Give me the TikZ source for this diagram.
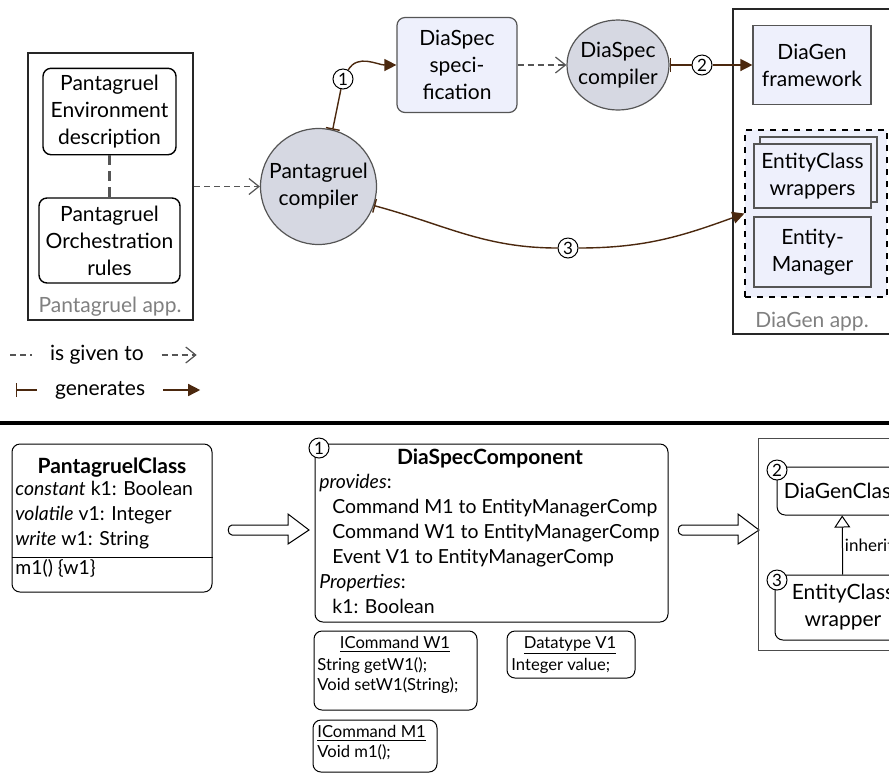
\documentclass[tikz,border=0pt]{standalone}
\usepackage{fontspec}
\setmainfont{Lato}
\usetikzlibrary{arrows.meta,shapes.geometric}
\definecolor{genbrown}{RGB}{75,40,14}
\definecolor{givengray}{RGB}{85,85,85}
\definecolor{compfill}{RGB}{214,216,226}
\definecolor{specfill}{RGB}{238,240,252}
\definecolor{applabel}{RGB}{128,128,128}
\tikzset{bigarr/.pic={\draw[line width=0.5pt,fill=white] (0,-5) -- (56,-5) -- (56,-16) -- (77,0) -- (56,14) -- (56,5) -- (0,5) .. controls (-5,5) and (-5,-5) .. (0,-5) -- cycle;}}
\begin{document}
\begin{tikzpicture}[x=0.5pt,y=-0.5pt,
    every node/.style={font=\fontsize{10.5}{13.5}\selectfont},
    given/.style={givengray,dash pattern=on 3pt off 2pt,line width=0.6pt,-{Straight Barb[length=5pt,width=8pt]}},
    genline/.style={genbrown,line width=0.7pt},
    genfrom/.style={genline,{Bar[width=7pt]}-},
    gento/.style={genline,-{Triangle[length=6pt,width=6pt]}},
    num/.style={circle,draw,fill=white,inner sep=0.5pt,minimum size=10pt,line width=0.5pt,font=\fontsize{8.5}{9}\selectfont},
    tool/.style={ellipse,draw=givengray,fill=compfill,line width=0.6pt,align=center,inner sep=0pt},
    artefact/.style={rectangle,draw=givengray,fill=specfill,line width=0.6pt,align=center},
    userbox/.style={rectangle,rounded corners=4pt,draw,line width=0.7pt,align=center},
    appbox/.style={rectangle,draw=black!85,line width=1.2pt},
    applbl/.style={text=applabel},
    classbox/.style={rectangle,rounded corners=4pt,draw,line width=0.5pt,align=center},
    classtxt/.style={anchor=base west,inner sep=0pt,font=\fontsize{9.7}{12.5}\selectfont},
    smalltxt/.style={anchor=base west,inner sep=0pt,font=\fontsize{8.3}{10}\selectfont},
  ]
    \useasboundingbox (0,0) rectangle (889,773);
    \clip (0,0) rectangle (889,773);

    % Pantagruel app
    \node[appbox,minimum width=82.5pt,minimum height=133.5pt] (pApp) at (110.5,186.5) {};
    \node[userbox,minimum width=66.5pt,minimum height=42.5pt] (envDesc) at (109.5,111.5) {Pantagruel\\Environment\\description};
    \node[userbox,minimum width=70.5pt,minimum height=42.5pt] (orchRules) at (109.5,240.5) {Pantagruel\\Orchestration\\rules};
    \node[applbl] (pAppLbl) at (110,307) {Pantagruel app.};
    \draw[givengray,line width=1.8pt,dash pattern=on 5pt off 3pt] (envDesc) -- (orchRules);

    % compilers and specification
    \node[tool,circle,minimum size=58pt] (pComp) at (318.5,186.5) {Pantagruel\\compiler};
    \node[artefact,rounded corners=4pt,minimum width=60pt,minimum height=47.5pt] (dsSpec) at (457,65) {DiaSpec\\speci-\\fication};
    \node[tool,inner xsep=-2pt,minimum width=51pt,minimum height=45pt] (dsComp) at (618,65) {DiaSpec\\compiler};

    % DiaGen app
    \node[appbox,anchor=north west,minimum width=120pt,minimum height=162.5pt] (dgApp) at (732,8) {};
    \node[applbl] (dgAppLbl) at (812,322) {DiaGen app.};
    \node[artefact,minimum width=59pt,minimum height=39.5pt] (dgFw) at (812,65) {DiaGen\\framework};
    \node[rectangle,draw,dashed,fill=specfill,line width=0.6pt,minimum width=71pt,minimum height=83.5pt] (grp) at (816,213.5) {};
    \node[artefact,minimum width=58.5pt,minimum height=32.5pt] (ecwBack) at (818.5,169.5) {};
    \node[artefact,minimum width=58.5pt,minimum height=32pt] (ecw) at (812.5,176) {EntityClass\\wrappers};
    \node[artefact,minimum width=58.5pt,minimum height=35pt] (entMgr) at (812.5,252) {Entity-\\Manager};

    \node[num] (n1) at (343,79) {1};
    \node[num] (n2) at (702,65) {2};
    \node[num] (n3) at (568,248) {3};

    \draw[given] (pApp) -- (pComp);
    \draw[given] (dsSpec) -- (dsComp);
    \draw[genfrom] (pComp.76) -- (n1);
    \draw[gento] (n1) to[out=60,in=180] (dsSpec.west);
    \draw[genfrom] (dsComp) -- (n2);
    \draw[gento] (n2) -- (dgFw);
    \draw[genfrom] (pComp.-19) to[out=-15,in=180] (n3);
    \draw[gento] (n3) to[out=0,in=200] (grp.west);

    % legend
    \node[anchor=west] (lgGiven) at (43,355) {is given to};
    \draw[given,-] ([xshift=-16.5pt]lgGiven.west) -- ([xshift=-5.5pt]lgGiven.west);
    \draw[given] ([xshift=5.5pt]lgGiven.east) -- ++(17.5pt,0);
    \node[anchor=west] (lgGen) at (48,390) {generates};
    \draw[genfrom] ([xshift=-16pt]lgGen.west) -- ([xshift=-5.5pt]lgGen.west);
    \draw[gento] ([xshift=5.5pt]lgGen.east) -- ++(18.5pt,0);

    \draw[line width=1.6pt] (0,423) -- (889,423);

    % PantagruelClass
    \node[classbox,minimum width=100pt,minimum height=74pt] (pClass) at (112,518) {};
    \node[anchor=base,font=\fontsize{10.5}{12}\selectfont\bfseries] (pClassTitle) at (112,473) {PantagruelClass};
    \foreach \txt [count=\i] in {{\textit{constant} k1: Boolean},{\textit{volatile} v1: Integer},{\textit{write} w1: String}}
        \node[classtxt] at (15,470+25*\i) {\txt};
    \draw[line width=0.5pt] (pClass.west |- 0,557) -- (pClass.east |- 0,557);
    \node[classtxt] (pClassOp) at (15,574) {m1() \{w1\}};

    \pic at (232,530) {bigarr};
    \pic at (682,530) {bigarr};

    % DiaSpecComponent
    \node[classbox,minimum width=176.5pt,minimum height=89pt] (dsComponent) at (491.5,533) {};
    \node[anchor=base,font=\fontsize{10.5}{12}\selectfont\bfseries] (dsCompTitle) at (490,464) {DiaSpecComponent};
    \node[classtxt] at (319,488) {\textit{provides}:};
    \node[classtxt] at (332,513) {Command M1 to EntityManagerComp};
    \node[classtxt] at (332,538) {Command W1 to EntityManagerComp};
    \node[classtxt] at (332,563) {Event V1 to EntityManagerComp};
    \node[classtxt] at (319,588) {\textit{Properties}:};
    \node[classtxt] at (332,613) {k1: Boolean};
    \node[num] (c1) at (319,448) {1};

    \node[classbox,minimum width=81.5pt,minimum height=39.5pt] (icmdW1) at (395.5,670.5) {};
    \node[smalltxt,anchor=base] at (395,648) {\underline{ICommand W1}};
    \node[smalltxt] at (317,670) {String getW1();};
    \node[smalltxt] at (317,690) {Void setW1(String);};
    \node[classbox,minimum width=64pt,minimum height=23.5pt] (dtV1) at (571,654.5) {};
    \node[smalltxt,anchor=base] at (570,648) {\underline{Datatype V1}};
    \node[smalltxt] at (511,670) {Integer value;};
    \node[classbox,minimum width=62pt,minimum height=26pt] (icmdM1) at (375,746) {};
    \node[smalltxt] at (317,737) {\underline{ICommand M1}};
    \node[smalltxt] at (317,757) {Void m1();};

    % DiaGen classes
    \node[rectangle,draw=black!70,line width=0.5pt,anchor=north west,minimum width=80pt,minimum height=106pt] (dgBox) at (758,438) {};
    \node[classbox,minimum width=64pt,minimum height=24pt] (dgClass) at (842,491) {DiaGenClass};
    \node[classbox,minimum width=68pt,minimum height=32.5pt] (ecWrap) at (843,607.5) {EntityClass\\wrapper};
    \draw[line width=0.5pt,-{Triangle[open,length=6pt,width=8pt]}] (ecWrap) -- node[right,inner sep=1pt,font=\fontsize{8.5}{10}\selectfont] {inherits} (dgClass);
    \node[num] (c2) at (777,470) {2};
    \node[num] (c3) at (777,580) {3};
\end{tikzpicture}
\end{document}
